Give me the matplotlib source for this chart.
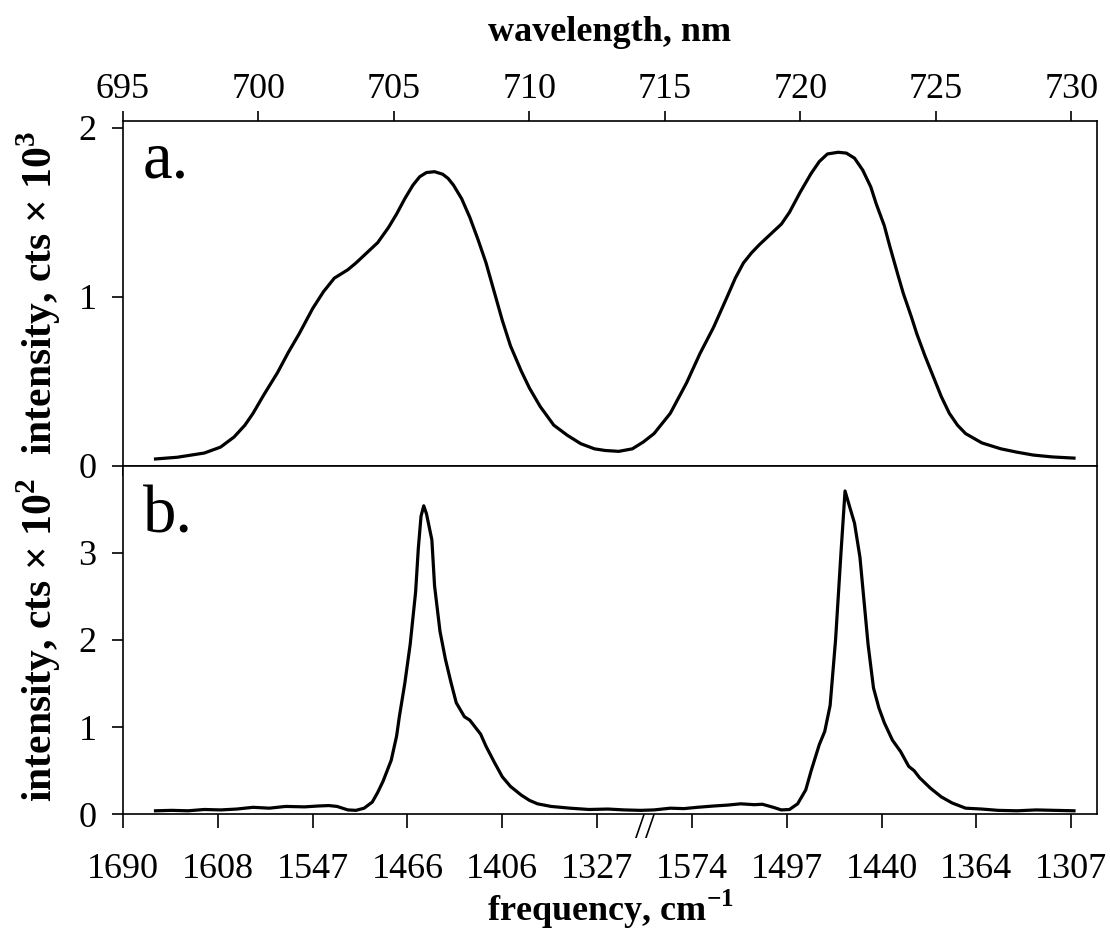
import matplotlib
matplotlib.use("Agg")
import matplotlib.pyplot as plt
import numpy as np

plt.rcParams['font.family'] = ['Liberation Serif', 'DejaVu Serif']
plt.rcParams['mathtext.fontset'] = 'custom'
plt.rcParams['mathtext.rm'] = 'Liberation Serif'
plt.rcParams['mathtext.bf'] = 'Liberation Serif:bold'

# panel a: wavelength (nm) vs intensity (x 10^3 counts)
wl_a = [696.2, 697.0, 698.0, 698.6, 699.1, 699.5, 699.8, 700.2, 700.7, 701.1, 701.5,
        702.0, 702.4, 702.8, 703.3, 703.6, 704.0, 704.4, 704.8, 705.1, 705.4, 705.7,
        705.95, 706.2, 706.5, 706.8, 707.0, 707.2, 707.5, 707.8, 708.1, 708.4, 708.7,
        709.0, 709.3, 709.7, 710.0, 710.4, 710.9, 711.4, 711.9, 712.4, 712.8, 713.3,
        713.8, 714.2, 714.6, 714.9, 715.2, 715.5, 715.8, 716.3, 716.8, 717.3, 717.6,
        717.9, 718.2, 718.5, 718.9, 719.3, 719.6, 720.0, 720.4, 720.7, 721.0, 721.4,
        721.7, 722.0, 722.3, 722.6, 722.8, 723.1, 723.3, 723.6, 723.8, 724.1, 724.3,
        724.6, 724.9, 725.2, 725.5, 725.8, 726.1, 726.7, 727.4, 728.0, 728.6, 729.3,
        730.1]
int_a = [0.04, 0.05, 0.075, 0.11, 0.17, 0.24, 0.31, 0.42, 0.55, 0.67, 0.78,
         0.93, 1.03, 1.11, 1.16, 1.20, 1.26, 1.32, 1.41, 1.49, 1.58, 1.66,
         1.71, 1.735, 1.74, 1.725, 1.70, 1.66, 1.58, 1.47, 1.34, 1.20, 1.03,
         0.86, 0.71, 0.56, 0.46, 0.35, 0.24, 0.18, 0.13, 0.10, 0.09, 0.085,
         0.10, 0.14, 0.19, 0.25, 0.31, 0.40, 0.49, 0.665, 0.82, 1.00, 1.11,
         1.20, 1.26, 1.31, 1.37, 1.43, 1.50, 1.62, 1.73, 1.80, 1.845, 1.855,
         1.85, 1.82, 1.75, 1.65, 1.55, 1.42, 1.30, 1.13, 1.02, 0.88, 0.78,
         0.65, 0.53, 0.41, 0.31, 0.24, 0.19, 0.135, 0.10, 0.08, 0.063, 0.052,
         0.045]

# panel b: wavelength (nm) vs intensity (x 10^2 counts)
wl_b = [696.2, 696.8, 697.4, 698.0, 698.6, 699.2, 699.8, 700.4, 701.0, 701.7, 702.2,
        702.6, 702.9, 703.3, 703.6, 703.9, 704.2, 704.4, 704.6, 704.9, 705.1, 705.2,
        705.4, 705.6, 705.8, 705.9, 706.0, 706.1, 706.2, 706.4, 706.5, 706.7, 706.9,
        707.1, 707.3, 707.6, 707.8, 707.9, 708.2, 708.4, 708.7, 709.0, 709.3, 709.7,
        710.0, 710.3, 710.8, 711.5, 712.2, 712.9, 713.5, 714.1, 714.6, 715.2, 715.7,
        716.2, 716.8, 717.3, 717.8, 718.3, 718.6, 719.0, 719.3, 719.6, 719.9, 720.2,
        720.4, 720.7, 720.9, 721.1, 721.3, 721.5, 721.65, 721.8, 722.0, 722.2, 722.35,
        722.5, 722.7, 722.9, 723.1, 723.4, 723.7, 724.0, 724.2, 724.4, 724.8, 725.2,
        725.6, 726.1, 726.7, 727.3, 728.0, 728.7, 729.4, 730.1]
int_b = [0.04, 0.045, 0.04, 0.055, 0.05, 0.06, 0.08, 0.07, 0.09, 0.085, 0.095,
         0.10, 0.09, 0.05, 0.045, 0.07, 0.14, 0.25, 0.38, 0.62, 0.90, 1.12,
         1.50, 1.95, 2.55, 3.05, 3.42, 3.54, 3.45, 3.15, 2.62, 2.10, 1.78,
         1.52, 1.28, 1.12, 1.08, 1.04, 0.92, 0.78, 0.60, 0.43, 0.32, 0.22,
         0.16, 0.12, 0.09, 0.07, 0.055, 0.06, 0.05, 0.045, 0.05, 0.07, 0.065,
         0.08, 0.095, 0.105, 0.12, 0.11, 0.115, 0.08, 0.05, 0.055, 0.12, 0.28,
         0.50, 0.80, 0.95, 1.25, 2.00, 3.00, 3.71, 3.55, 3.34, 2.95, 2.45,
         1.95, 1.45, 1.22, 1.05, 0.85, 0.72, 0.55, 0.50, 0.42, 0.30, 0.20,
         0.13, 0.07, 0.06, 0.045, 0.04, 0.05, 0.045, 0.04]

wl_ticks = [695, 700, 705, 710, 715, 720, 725, 730]
freq_labels = ['1690', '1608', '1547', '1466', '1406', '1327',
               '1574', '1497', '1440', '1364', '1307']
freq_pos = np.linspace(695, 730, len(freq_labels))
break_pos = (freq_pos[5] + freq_pos[6]) / 2

fig = plt.figure(figsize=(11.1, 9.38), dpi=100)
ax_a = fig.add_axes([0.1108, 0.5035, 0.8775, 0.3675])
ax_b = fig.add_axes([0.1108, 0.1319, 0.8775, 0.3716])

lw = 2.3
ax_a.plot(wl_a, int_a, color='black', lw=lw)
ax_b.plot(wl_b, int_b, color='black', lw=lw)

for ax in (ax_a, ax_b):
    ax.set_xlim(695, 730.95)
    for s in ax.spines.values():
        s.set_linewidth(1.2)
    ax.tick_params(direction='out', length=8, width=1.2, labelsize=26)
    ax.tick_params(axis='y', pad=11)

ax_a.set_ylim(0, 2.04)
ax_a.set_yticks([0, 1, 2])
ax_a.set_xticks(wl_ticks)
ax_a.xaxis.tick_top()
ax_a.tick_params(axis='x', which='both', top=True, bottom=True, labeltop=True,
                 labelbottom=False, pad=4, length=7)
ax_a.xaxis.set_label_position('top')
ax_a.set_xlabel('wavelength, nm', fontsize=26, fontweight='bold', labelpad=23)
ax_a.set_ylabel('intensity, cts × 10$^{\\mathbf{3}}$', fontsize=30, fontweight='bold')
ax_a.yaxis.set_label_coords(-0.062, 0.5)

ax_b.set_ylim(0, 4.0)
ax_b.set_yticks([0, 1, 2, 3])
ax_b.set_xticks(freq_pos)
ax_b.set_xticklabels(freq_labels)
ax_b.tick_params(axis='x', top=False, length=10, pad=18)
ax_b.set_xlabel('frequency, cm$^{\\mathbf{-1}}$', fontsize=26, fontweight='bold', labelpad=1)
ax_b.set_ylabel('intensity, cts × 10$^{\\mathbf{2}}$', fontsize=30, fontweight='bold')
ax_b.yaxis.set_label_coords(-0.062, 0.5)

# axis break mark
ax_b.text(break_pos, 0.005, '//', transform=ax_b.get_xaxis_transform(),
          ha='center', va='top', fontsize=26, clip_on=False)

ax_a.text(0.02, 0.835, 'a.', transform=ax_a.transAxes, fontsize=48, ha='left', va='baseline')
ax_b.text(0.02, 0.807, 'b.', transform=ax_b.transAxes, fontsize=48, ha='left', va='baseline')

fig.savefig('out.png', dpi=100)
